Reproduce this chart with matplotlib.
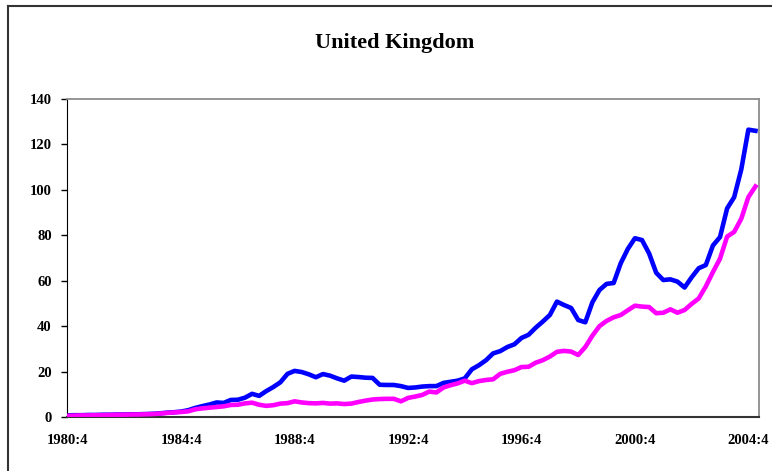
import matplotlib

matplotlib.use("Agg")

import matplotlib.pyplot as plt
from matplotlib.lines import Line2D

# quarterly series, 1980:4 .. 2005:1
quarter_labels = ["1980:4", "1984:4", "1988:4", "1992:4", "1996:4", "2000:4", "2004:4"]

blue_series = [
    0.7, 0.8, 0.8, 0.9, 0.9, 1.0, 1.0, 1.1, 1.1, 1.2,
    1.2, 1.3, 1.4, 1.6, 1.9, 2.1, 2.4, 3.0, 4.0, 4.8,
    5.5, 6.4, 6.2, 7.5, 7.6, 8.5, 10.2, 9.3, 11.4, 13.2,
    15.3, 19.0, 20.3, 19.8, 18.8, 17.5, 18.9, 18.2, 17.0, 16.0,
    17.8, 17.6, 17.3, 17.2, 14.2, 14.1, 14.1, 13.6, 12.8, 13.0,
    13.4, 13.6, 13.6, 15.0, 15.5, 16.0, 17.0, 21.0, 22.8, 25.0,
    28.0, 29.0, 30.8, 32.0, 34.8, 36.2, 39.3, 42.0, 44.9, 50.8,
    49.3, 48.0, 42.7, 41.7, 50.5, 55.9, 58.6, 59.0, 67.7, 74.0,
    78.7, 77.9, 72.0, 63.5, 60.3, 60.6, 59.6, 57.0, 61.5, 65.5,
    66.9, 75.5, 79.2, 91.8, 96.8, 109.0, 126.5, 126.0,
]

magenta_series = [
    0.5, 0.6, 0.7, 0.7, 0.8, 0.8, 0.9, 1.0, 1.0, 1.1,
    1.1, 1.2, 1.3, 1.5, 1.8, 2.0, 2.2, 2.5, 3.4, 3.8,
    4.1, 4.4, 4.7, 5.3, 5.4, 6.0, 6.3, 5.4, 4.9, 5.2,
    5.9, 6.1, 6.9, 6.4, 6.1, 6.0, 6.2, 5.9, 6.0, 5.7,
    5.9, 6.6, 7.2, 7.7, 7.9, 8.0, 8.0, 6.9, 8.4, 9.0,
    9.7, 11.2, 10.8, 13.0, 14.0, 14.8, 16.0, 14.9, 15.8, 16.3,
    16.6, 19.0, 19.9, 20.6, 22.0, 22.1, 23.9, 25.0, 26.6, 28.7,
    29.1, 28.8, 27.3, 30.8, 35.8, 40.0, 42.3, 43.9, 44.9, 47.0,
    49.0, 48.6, 48.4, 45.7, 45.9, 47.4, 45.9, 47.1, 49.8, 52.2,
    57.5, 63.8, 69.7, 79.4, 81.5, 87.3, 96.8, 101.5,
]

y_ticks = [0, 20, 40, 60, 80, 100, 120, 140]

plt.rcParams.update(
    {
        "font.family": ["Liberation Serif", "DejaVu Serif"],
        "font.weight": "bold",
        "font.size": 10.5,
    }
)

W, H = 772, 471
fig = plt.figure(figsize=(W / 100, H / 100), dpi=100)
ax = fig.add_axes([67 / W, 1 - 417 / H, (759 - 67) / W, (417 - 99) / H])

quarters = list(range(len(blue_series)))
ax.plot(quarters, blue_series, color="#0000ff", linewidth=3.3, solid_joinstyle="round", zorder=2)
ax.plot(quarters, magenta_series, color="#ff00ff", linewidth=3.3, solid_joinstyle="round", zorder=3)

ax.set_xlim(-0.1, 97.5)
ax.set_ylim(0, 140)
ax.set_yticks(y_ticks)
ax.set_yticklabels([str(v) for v in y_ticks], fontweight="bold")
ax.set_xticks(list(range(0, 97, 16)))
ax.set_xticklabels(quarter_labels, fontweight="bold")
ax.tick_params(axis="y", length=4, width=1, pad=7, color="black")
ax.tick_params(axis="x", length=0, pad=12)

ax.spines["left"].set_color("black")
ax.spines["bottom"].set_color("#333333")
ax.spines["bottom"].set_linewidth(1.5)
ax.spines["top"].set_color("#8c8c8c")
ax.spines["right"].set_color("#8c8c8c")
ax.spines["top"].set_linewidth(1.3)
ax.spines["right"].set_linewidth(1.3)

fig.text(395 / W, 1 - 43 / H, "United Kingdom", ha="center", va="center",
         fontsize=16, fontweight="bold")

# outer chart frame (left and top edges visible)
fig.add_artist(Line2D([8 / W, 8 / W], [0, 1 - 6 / H], transform=fig.transFigure,
                      color="#333333", linewidth=1.5))
fig.add_artist(Line2D([8 / W, 1], [1 - 6 / H, 1 - 6 / H], transform=fig.transFigure,
                      color="#333333", linewidth=1.5))

fig.savefig("out.png", dpi=100)
